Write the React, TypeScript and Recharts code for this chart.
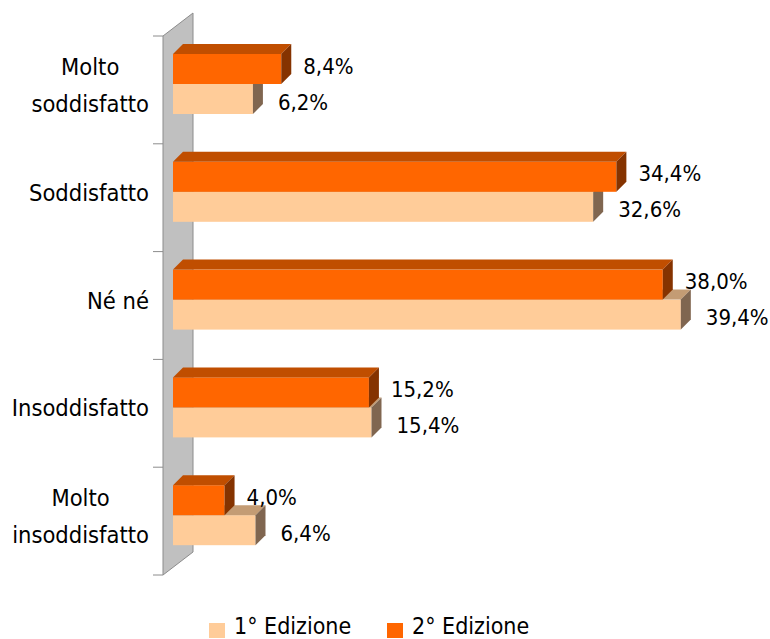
import React from "react";
import { BarChart, Bar, XAxis, YAxis } from "recharts";

const categories = ["Molto\nsoddisfatto", "Soddisfatto", "Né né", "Insoddisfatto", "Molto\ninsoddisfatto"];
const edizione1 = [6.2, 32.6, 39.4, 15.4, 6.4];
const edizione2 = [8.4, 34.4, 38.0, 15.2, 4.0];
const seriesNames = ["1° Edizione", "2° Edizione"];

const data = categories.map((c, i) => ({ cat: c, e1: edizione1[i], e2: edizione2[i] }));

const W = 770;
const H = 639;
const M = { top: 36, right: 17, bottom: 64, left: 0 };
const YW = 173;
const PLOT_LEFT = M.left + YW;
const PLOT_TOP = M.top;
const PLOT_BOTTOM = H - M.bottom;
const DEPTH = 10;
const BAR = 30;
const FONT = "'DejaVu Sans Condensed', 'DejaVu Sans', sans-serif";
const FS_CAT = 23.5;
const FS_VAL = 22;
const FS_LEG = 23;

const COLORS = {
  e1: { front: "#FFCC99", top: "#C49C74", side: "#806650" },
  e2: { front: "#FF6600", top: "#C04E00", side: "#853300" },
};

let ctx: CanvasRenderingContext2D | null = null;
function measure(t: string) {
  if (!ctx) {
    const c = document.createElement("canvas");
    ctx = c.getContext("2d");
  }
  if (!ctx) return t.length * 11;
  ctx.font = `${FS_CAT}px ${FONT}`;
  return ctx.measureText(t).width;
}

const fmt = (v: number) => v.toFixed(1).replace(".", ",") + "%";

function makeShape(kind: "e1" | "e2") {
  return (props: any) => {
    const { x, y, width, height, value } = props;
    const h = height;
    const shift = kind === "e1" ? h - 6 : -h - 6;
    const y0 = y + shift;
    const w = width;
    const c = COLORS[kind];
    const d = DEPTH;
    const v = Array.isArray(value) ? value[1] - value[0] : value;
    return (
      <g>
        <rect x={x} y={y0} width={w} height={h} fill={c.front} />
        <polygon
          points={`${x},${y0} ${x + w},${y0} ${x + w + d},${y0 - d} ${x + d},${y0 - d}`}
          fill={c.top}
        />
        <polygon
          points={`${x + w},${y0} ${x + w + d},${y0 - d} ${x + w + d},${y0 + h - d} ${x + w},${y0 + h}`}
          fill={c.side}
        />
        <text
          x={x + w + (kind === "e2" ? 22 : 25)}
          y={y0 + h / 2 + (kind === "e2" ? 4.5 : 10.5)}
          fontFamily={FONT}
          fontSize={FS_VAL}
          fill="#000"
        >
          {fmt(v)}
        </text>
      </g>
    );
  };
}

function CatTick(props: any) {
  const { y, payload } = props;
  const lines: string[] = String(payload.value).split("\n");
  const right = 149;
  if (lines.length === 1) {
    return (
      <text x={right} y={y + 3} textAnchor="end" fontFamily={FONT} fontSize={FS_CAT} fill="#000">
        {lines[0]}
      </text>
    );
  }
  const maxW = Math.max(...lines.map(measure));
  const cx = right - maxW / 2;
  return (
    <g>
      {lines.map((l, i) => (
        <text key={i} x={cx} y={y - 15 + i * 37} textAnchor="middle" fontFamily={FONT} fontSize={FS_CAT} fill="#000">
          {l}
        </text>
      ))}
    </g>
  );
}

function Background() {
  const fx = PLOT_LEFT - DEPTH;
  const bx = fx + 30;
  const dy = 23;
  const n = categories.length;
  const step = (PLOT_BOTTOM - PLOT_TOP) / n;
  const ticks = Array.from({ length: n + 1 }, (_, i) => PLOT_TOP + i * step);
  return (
    <svg width={W} height={H} style={{ position: "absolute", left: 0, top: 0 }}>
      <polygon
        points={`${fx},${PLOT_TOP} ${bx},${PLOT_TOP - dy} ${bx},${PLOT_BOTTOM - dy} ${fx},${PLOT_BOTTOM}`}
        fill="#C0C0C0"
        stroke="#8C8C8C"
        strokeWidth={1}
      />
      {ticks.map((t, i) => (
        <line key={i} x1={fx - 10} x2={fx} y1={t} y2={t} stroke="#8C8C8C" strokeWidth={1} />
      ))}
    </svg>
  );
}

function LegendBox() {
  const items = [
    { name: seriesNames[0], color: COLORS.e1.front, x: 209 },
    { name: seriesNames[1], color: COLORS.e2.front, x: 387 },
  ];
  return (
    <svg width={W} height={H} style={{ position: "absolute", left: 0, top: 0, pointerEvents: "none" }}>
      {items.map((it) => (
        <g key={it.name}>
          <rect x={it.x} y={623} width={16} height={15} fill={it.color} />
          <text x={it.x + 25} y={634} fontFamily={FONT} fontSize={FS_LEG} fill="#000">
            {it.name}
          </text>
        </g>
      ))}
    </svg>
  );
}

export default function App() {
  return (
    <div style={{ position: "absolute", left: 0, top: 0, width: W, height: H, background: "#fff" }}>
      <Background />
      <div style={{ position: "absolute", left: 0, top: 0 }}>
        <BarChart
          width={W}
          height={H}
          data={data}
          layout="vertical"
          margin={M}
          barSize={BAR}
          barGap={0}
        >
          <XAxis type="number" domain={[0, 45]} hide />
          <YAxis
            type="category"
            dataKey="cat"
            width={YW}
            axisLine={false}
            tickLine={false}
            tick={<CatTick />}
            interval={0}
          />
          <Bar dataKey="e1" isAnimationActive={false} shape={makeShape("e1")} />
          <Bar dataKey="e2" isAnimationActive={false} shape={makeShape("e2")} />
        </BarChart>
      </div>
      <LegendBox />
    </div>
  );
}
